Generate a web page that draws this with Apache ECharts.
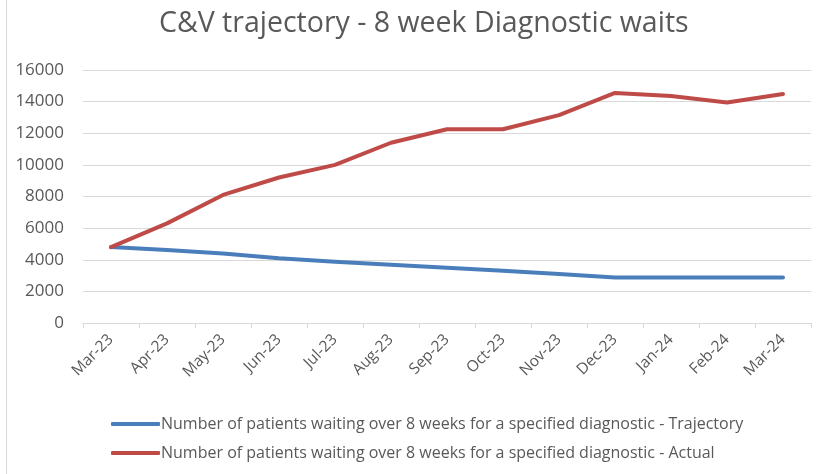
<!DOCTYPE html>
<html>
<head>
<meta charset="utf-8">
<script src="https://cdn.jsdelivr.net/npm/echarts@6/dist/echarts.min.js"></script>
<style>
  html, body { margin: 0; padding: 0; background: #fff; }
  #chart { width: 822px; height: 474px; }
</style>
</head>
<body>
<div id="chart"></div>
<script>
// months on the x axis
const months = ['Mar-23', 'Apr-23', 'May-23', 'Jun-23', 'Jul-23', 'Aug-23', 'Sep-23',
  'Oct-23', 'Nov-23', 'Dec-23', 'Jan-24', 'Feb-24', 'Mar-24']

// patients waiting over 8 weeks
const trajectory = [4800, 4620, 4400, 4100, 3880, 3680, 3500, 3300, 3100, 2870, 2870, 2870, 2870]
const actual = [4800, 6300, 8100, 9200, 10000, 11400, 12250, 12250, 13150, 14550, 14350, 13950, 14480]

const seriesNames = [
  'Number of patients waiting over 8 weeks for a specified diagnostic - Trajectory',
  'Number of patients waiting over 8 weeks for a specified diagnostic - Actual'
]

const font = 'Open Sans'
const textColor = '#595959'
const gridColor = '#D9D9D9'

const chart = echarts.init(document.getElementById('chart'))

const option = {
  animation: false,
  backgroundColor: '#fff',
  title: {
    text: 'C&V trajectory - 8 week Diagnostic waits',
    left: 154,
    top: 4,
    textStyle: { fontFamily: font, fontSize: 28.5, fontWeight: 'normal', color: textColor }
  },
  graphic: [
    { type: 'line', shape: { x1: 6.5, y1: 0, x2: 6.5, y2: 474 }, style: { stroke: gridColor, lineWidth: 1 } }
  ],
  legend: {
    orient: 'vertical',
    left: 106,
    top: 411,
    itemWidth: 49,
    itemHeight: 4,
    itemGap: 13,
    icon: 'roundRect',
    textStyle: { fontFamily: font, fontSize: 16, color: textColor, padding: [0, 0, 0, -4] },
    data: seriesNames
  },
  grid: { left: 83, right: 11, top: 70, bottom: 151, containLabel: false },
  xAxis: {
    type: 'category',
    data: months,
    boundaryGap: true,
    axisLine: { lineStyle: { color: gridColor, width: 1 } },
    axisTick: { show: true, length: 5, lineStyle: { color: gridColor } },
    axisLabel: {
      rotate: 45,
      interval: 0,
      margin: 14,
      fontFamily: font,
      fontSize: 15.5,
      color: textColor
    }
  },
  yAxis: {
    type: 'value',
    min: 0,
    max: 16000,
    interval: 2000,
    axisLine: { show: false },
    axisTick: { show: false },
    splitLine: { lineStyle: { color: gridColor, width: 1 } },
    axisLabel: {
      fontFamily: font,
      fontSize: 17,
      color: textColor,
      margin: 19,
      formatter: v => String(v)
    }
  },
  series: [
    {
      name: seriesNames[0],
      type: 'line',
      data: trajectory,
      symbol: 'none',
      lineStyle: { color: '#4A7EBB', width: 4, cap: 'round', join: 'round' },
      itemStyle: { color: '#4A7EBB' }
    },
    {
      name: seriesNames[1],
      type: 'line',
      data: actual,
      symbol: 'none',
      lineStyle: { color: '#BE4B48', width: 4, cap: 'round', join: 'round' },
      itemStyle: { color: '#BE4B48' }
    }
  ]
}

chart.setOption(option)
</script>
</body>
</html>
